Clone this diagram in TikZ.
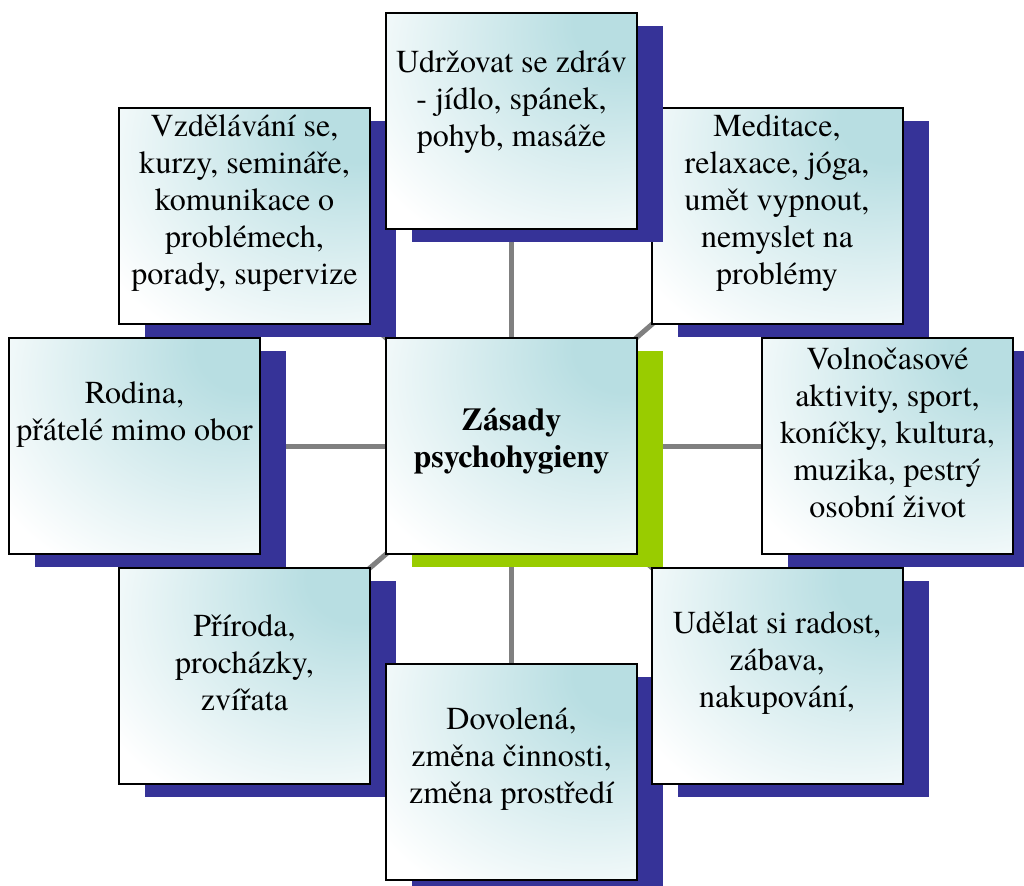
\documentclass[tikz,border=0pt]{standalone}
\usepackage{fontspec}
\setmainfont{texgyretermes}[Extension=.otf, UprightFont=*-regular, BoldFont=*-bold, ItalicFont=*-italic, BoldItalicFont=*-bolditalic]
\usetikzlibrary{shadows,backgrounds}
\definecolor{shadowblue}{RGB}{54,51,152}
\definecolor{shadowgreen}{RGB}{153,204,0}
\definecolor{glowteal}{RGB}{184,222,226}
\definecolor{linkgray}{RGB}{128,128,128}
\pgfdeclareradialshading{boxglow}{\pgfpoint{25bp}{25bp}}{color(0bp)=(glowteal); color(10bp)=(glowteal); color(48bp)=(white); color(100bp)=(white)}
\tikzset{
	box/.style={draw=black, line width=1.5pt, shading=boxglow, minimum width=188.25pt, minimum height=162pt, inner sep=0pt,
		drop shadow={shadow xshift=19.5pt, shadow yshift=-10pt, fill=shadowblue, opacity=1}},
	hubbox/.style={box, drop shadow={shadow xshift=19.5pt, shadow yshift=-10pt, fill=shadowgreen, opacity=1}},
	txt/.style={align=center, inner sep=0pt, font=\fontsize{24}{27.8}\selectfont},
	link/.style={line width=3.75pt, color=linkgray}
}

\begin{document}
\begin{tikzpicture}[x=0.75pt, y=-0.75pt]
			%%%%% START %%%%%
			\useasboundingbox (0, 0) rectangle (1024, 885);
			
			\node[box] (vzdel) at (244.5, 216) {};
			\node[txt] (vzdel-t) at ([yshift=9.75pt]vzdel.center) {Vzdělávání se,\\kurzy, semináře,\\komunikace o\\problémech,\\porady, supervize};
			
			\node[box] (medit) at (777, 216) {};
			\node[txt] (medit-t) at ([yshift=9.75pt]medit.center) {Meditace,\\relaxace, jóga,\\umět vypnout,\\nemyslet na\\problémy};
			
			\node[box] (zdrav) at (511.5, 121) {};
			\node[txt] (zdrav-t) at ([yshift=14.25pt]zdrav.center) {Udržovat se zdráv\\- jídlo, spánek,\\pohyb, masáže};
			
			\node[box] (rodina) at (134.5, 446) {};
			\node[txt] (rodina-t) at ([yshift=23.25pt]rodina.center) {Rodina,\\přátelé mimo obor};
			
			\node[hubbox] (hub) at (511.5, 446) {};
			\node[txt, font=\fontsize{24}{27.8}\selectfont\bfseries] (hub-t) at ([yshift=3.75pt]hub.center) {Zásady\\psychohygieny};
			
			\node[box] (volno) at (887.5, 446) {};
			\node[txt] (volno-t) at ([yshift=9.75pt]volno.center) {Volnočasové\\aktivity, sport,\\koníčky, kultura,\\muzika, pestrý\\osobní život};
			
			\node[box] (priroda) at (244.5, 676) {};
			\node[txt] (priroda-t) at ([yshift=9.75pt]priroda.center) {Příroda,\\procházky,\\zvířata};
			
			\node[box] (dovol) at (511.5, 772) {};
			\node[txt] (dovol-t) at ([yshift=9.75pt]dovol.center) {Dovolená,\\změna činnosti,\\změna prostředí};
			
			\node[box] (radost) at (777, 676) {};
			\node[txt] (radost-t) at ([yshift=9.75pt]radost.center) {Udělat si radost,\\zábava,\\nakupování,};
			
			\begin{pgfonlayer}{background}
				\foreach \n in {vzdel, medit, zdrav, rodina, volno, priroda, dovol, radost}
					\draw[link] (hub.center) -- (\n.center);
			\end{pgfonlayer}
			%%%%% END %%%%%
\end{tikzpicture}
\end{document}
